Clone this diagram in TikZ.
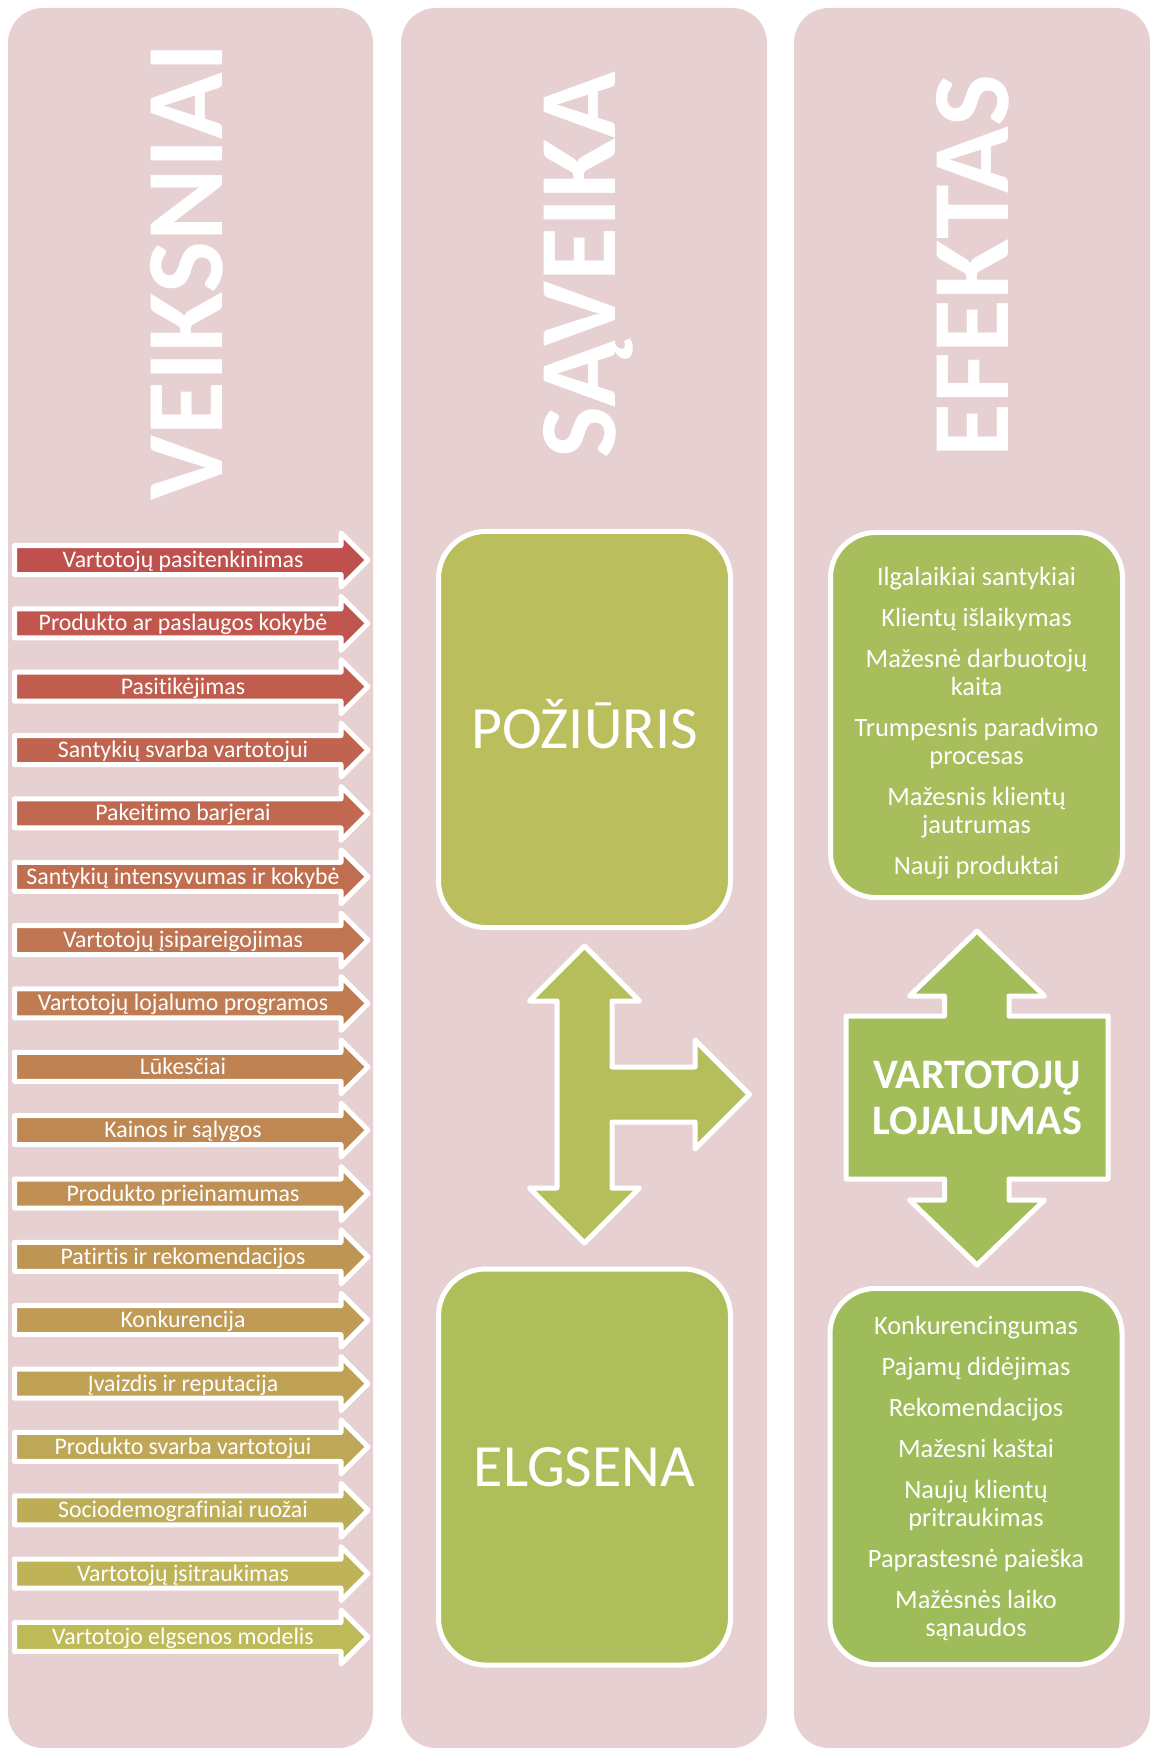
\documentclass[tikz,border=0pt]{standalone}
\usepackage{fontspec}
\setmainfont{Carlito}[Ligatures=NoCommon]
\definecolor{panelpink}{RGB}{231,208,209}
\definecolor{factop}{RGB}{192,80,77}
\definecolor{facbot}{RGB}{190,186,88}
\definecolor{stagetop}{RGB}{186,190,92}
\definecolor{stagemid}{RGB}{180,190,90}
\definecolor{stagebot}{RGB}{174,190,90}
\definecolor{effecttop}{RGB}{168,189,91}
\definecolor{effectmid}{RGB}{164,189,91}
\definecolor{effectbot}{RGB}{158,188,89}
\tikzset{
  panel/.style={fill=panelpink, rounded corners=17.5pt},
  panelhead/.style={text=white, font=\fontsize{55pt}{60pt}\selectfont\bfseries, rotate=90, anchor=base, inner sep=0},
  factorarr/.style={draw=white, line width=2.5pt, line join=round},
  factorlbl/.style={text=white, font=\fontsize{11.9pt}{13pt}\selectfont, anchor=base, inner sep=0},
  bigarrow/.style={draw=white, line width=2.5pt, line join=round},
  stagebox/.style={draw=white, line width=2.5pt, rounded corners=23.5pt, text=white, font=\fontsize{30pt}{34pt}\selectfont, text height=19pt, text depth=0pt, minimum width=146pt, minimum height=198pt},
  effectbox/.style={draw=white, line width=2.5pt, rounded corners=22.5pt, minimum width=146pt},
  effecttext/.style={text=white, align=center, font=\fontsize{13.2pt}{14pt}\selectfont}
}

\begin{document}
\begin{tikzpicture}[x=0.5pt, y=-0.5pt]
    \useasboundingbox (0,0) rectangle (1151,1748);

    % three columns
    \fill[panel] (8,8) rectangle (373,1748);
    \fill[panel] (401,8) rectangle (767,1748);
    \fill[panel] (794,8) rectangle (1150,1748);

    \node[panelhead] (hveik) at (222,272) {VEIKSNIAI};
    \node[panelhead] (hsav) at (615,265) {SĄVEIKA};
    \node[panelhead] (hefek) at (1008,266) {EFEKTAS};

    % factors
    \foreach \lbl [count=\i from 0] in {Vartotojų pasitenkinimas, Produkto ar paslaugos kokybė, Pasitikėjimas,
        Santykių svarba vartotojui, Pakeitimo barjerai, Santykių intensyvumas ir kokybė,
        Vartotojų įsipareigojimas, Vartotojų lojalumo programos, Lūkesčiai, Kainos ir sąlygos,
        Produkto prieinamumas, Patirtis ir rekomendacijos, Konkurencija, Įvaizdis ir reputacija,
        Produkto svarba vartotojui, Sociodemografiniai ruožai, Vartotojų įsitraukimas,
        Vartotojo elgsenos modelis}{
      \pgfmathsetmacro\yc{560+63.35*\i}
      \pgfmathtruncatemacro\pct{round(100*\i/17)}
      \draw[factorarr, fill=facbot!\pct!factop] (14.5,\yc-14.5) -- (341,\yc-14.5) -- (341,\yc-27)
          -- (368,\yc) -- (341,\yc+27) -- (341,\yc+14.5) -- (14.5,\yc+14.5) -- cycle;
      \node[factorlbl] (fac\i) at (183,\yc+7.5) {\lbl};
    }

    % interaction
    \node[stagebox, fill=stagetop] (poz) at (584.5,729.5) {POŽIŪRIS};
    \node[stagebox, fill=stagebot] (elg) at (584.5,1467) {ELGSENA};
    \draw[bigarrow, fill=stagemid] (584.5,946) -- (639.5,1001) -- (612,1001) -- (612,1067) -- (695,1067)
        -- (695,1040) -- (749.5,1094.5) -- (695,1149) -- (695,1122) -- (612,1122) -- (612,1188)
        -- (639.5,1188) -- (584.5,1243) -- (529.5,1188) -- (557,1188) -- (557,1001) -- (529.5,1001) -- cycle;

    % effects
    \node[effectbox, fill=effecttop, minimum height=182.5pt] (eff1) at (976.5,715) {};
    \node[effecttext] (eff1txt) at (976.5,723) {Ilgalaikiai santykiai\\[6.5pt]
        Klientų išlaikymas\\[6.5pt] Mažesnė darbuotojų\\kaita\\[6.5pt] Trumpesnis paradvimo\\procesas\\[6.5pt]
        Mažesnis klientų\\jautrumas\\[6.5pt] Nauji produktai};
    \draw[bigarrow, fill=effectmid] (977,931) -- (1044.5,996) -- (1009,996) -- (1009,1016) -- (1108,1016)
        -- (1108,1179) -- (1009,1179) -- (1009,1200) -- (1044.5,1200) -- (977,1265) -- (909.5,1200)
        -- (944.5,1200) -- (944.5,1179) -- (846,1179) -- (846,1016) -- (944.5,1016) -- (944.5,996)
        -- (909.5,996) -- cycle;
    \node[text=white, align=center, font=\fontsize{21pt}{23pt}\selectfont\bfseries] (loyal) at (977,1097.5) {VARTOTOJŲ\\LOJALUMAS};
    \node[effectbox, fill=effectbot, minimum height=188pt] (eff2) at (976,1476.5) {};
    \node[effecttext] (eff2txt) at (976,1478) {Konkurencingumas\\[6.5pt]
        Pajamų didėjimas\\[6.5pt] Rekomendacijos\\[6.5pt] Mažesni kaštai\\[6.5pt] Naujų klientų\\pritraukimas\\[6.5pt]
        Paprastesnė paieška\\[6.5pt] Mažėsnės laiko\\sąnaudos};
\end{tikzpicture}
\end{document}
